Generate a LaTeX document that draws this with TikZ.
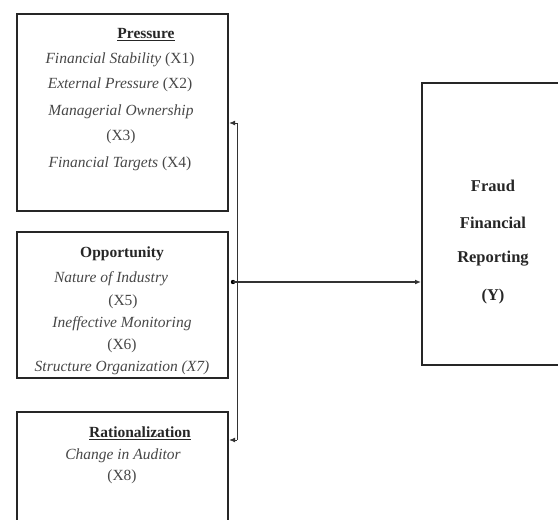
\documentclass[tikz,border=0pt]{standalone}
\usepackage{fontspec}
\setmainfont{Liberation Serif}
\usetikzlibrary{arrows.meta}
\begin{document}
\begin{tikzpicture}[x=1pt,y=1pt,
  box/.style={draw=black!85,line width=2.4pt,minimum width=211pt,inner sep=0pt},
  it/.style={font=\fontsize{15.5}{17}\selectfont\itshape,text=black!72,inner sep=0pt},
  bt/.style={font=\fontsize{15.5}{17}\selectfont\bfseries,text=black!85,inner sep=0pt},
  yt/.style={font=\fontsize{16.5}{18}\selectfont\bfseries,text=black!85,inner sep=0pt},
  thin/.style={draw=black!80,line width=0.8pt},
  tip/.style={-{Latex[length=6pt,width=5pt]}}]
\useasboundingbox (0,0) rectangle (558,-520);
% boxes
\node[box,minimum height=197pt] (p) at (122.5,-112.5) {};
\node[box,minimum height=146pt] (o) at (122.5,-305) {};
\node[box,minimum height=118pt] (r) at (122.5,-471) {};
\node[box,minimum width=143pt,minimum height=282pt,line width=2pt] (f) at (493.5,-224) {};
% pressure text
\node[bt] (pt) at (146,-35) {\underline{Pressure}};
\node[it] (p1) at (120,-60) {Financial Stability \upshape(X1)};
\node[it] (p2) at (120,-85) {External Pressure \upshape(X2)};
\node[it] (p3) at (121,-112) {Managerial Ownership};
\node[it] (p4) at (121,-137) {\upshape(X3)};
\node[it] (p5) at (120,-164) {Financial Targets \upshape(X4)};
% opportunity text
\node[bt] (ot) at (122,-254) {Opportunity};
\node[it] (o1) at (111,-279) {Nature of Industry};
\node[it] (o2) at (123,-302) {\upshape(X5)};
\node[it] (o3) at (122,-324) {Ineffective Monitoring};
\node[it] (o4) at (122,-346) {\upshape(X6)};
\node[it] (o5) at (122,-368) {Structure Organization (X7)};
% rationalization text
\node[bt] (rt) at (140,-433) {\underline{Rationalization}};
\node[it] (r1) at (123,-456) {Change in Auditor};
\node[it] (r2) at (122,-477) {\upshape(X8)};
% fraud text
\node[yt] (f1) at (493,-186) {Fraud};
\node[yt] (f2) at (493,-223) {Financial};
\node[yt] (f3) at (493,-259) {Reporting};
\node[yt] (f4) at (493,-297) {(Y)};
% connectors
\coordinate (a) at (237,-123);
\coordinate (b) at (237,-440);
\coordinate (m) at (233,-282);
\draw[thin] (a) -- (b);
\draw[thin,tip] (a) -- (a -| p.east);
\draw[thin,tip] (b) -- (b -| r.east);
\fill[black] (m) circle (2.2pt);
\draw[line width=1.3pt,draw=black!80,tip] (m) -- (m -| f.west);
\end{tikzpicture}
\end{document}
